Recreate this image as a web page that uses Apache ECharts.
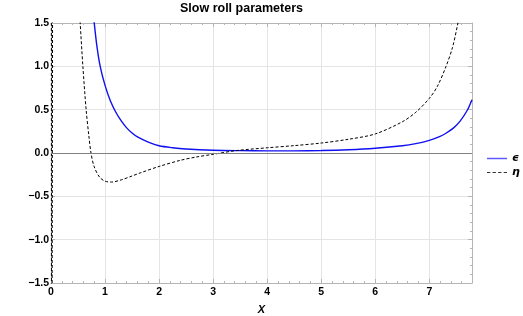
<!DOCTYPE html>
<html>
<head>
<meta charset="utf-8">
<script src="https://cdn.jsdelivr.net/npm/echarts@6/dist/echarts.min.js"></script>
<style>html,body{margin:0;padding:0;background:#fff;}#c{width:523px;height:316px;}</style>
</head>
<body>
<div id="c"></div>
<script>
const titleText = 'Slow roll parameters';
const xAxisName = 'X';
const seriesNames = ['\u03F5', '\u03B7'];
const xTickLabels = ['0', '1', '2', '3', '4', '5', '6', '7'];
const yTickLabels = ['\u22121.5', '\u22121.0', '\u22120.5', '0.0', '0.5', '1.0', '1.5'];
const yTickValues = [-1.5, -1.0, -0.5, 0.0, 0.5, 1.0, 1.5];

// epsilon (solid blue)
const epsX = [0.785, 0.80, 0.85, 0.91, 1.0, 1.1, 1.2, 1.3, 1.4, 1.5, 1.6, 1.8, 2.0, 2.25, 2.5, 3.0, 3.5, 4.0, 4.5, 5.0, 5.5, 6.0, 6.5, 6.75, 7.0, 7.2, 7.3, 7.45, 7.57, 7.7, 7.79];
const epsY = [1.6, 1.5, 1.23, 1.0, 0.78, 0.6, 0.47, 0.37, 0.29, 0.23, 0.185, 0.125, 0.083, 0.06, 0.046, 0.032, 0.027, 0.025, 0.025, 0.028, 0.037, 0.054, 0.083, 0.108, 0.146, 0.193, 0.225, 0.29, 0.368, 0.49, 0.615];

// eta (dashed black), main branch
const etaX = [0.52, 0.54, 0.59, 0.65, 0.70, 0.74, 0.8, 0.9, 1.0, 1.12, 1.3, 1.5, 1.65, 2.0, 2.39, 2.69, 3.0, 3.43, 4.0, 4.5, 5.0, 5.5, 6.0, 6.5, 6.75, 7.0, 7.15, 7.31, 7.43, 7.53, 7.56];
const etaY = [1.75, 1.5, 1.0, 0.5, 0.2, 0.0, -0.16, -0.28, -0.325, -0.335, -0.31, -0.265, -0.23, -0.155, -0.085, -0.046, -0.015, 0.028, 0.06, 0.085, 0.115, 0.158, 0.22, 0.36, 0.47, 0.63, 0.77, 1.0, 1.22, 1.5, 1.6];
// eta, near-vertical branch at X close to 0
const etaBranchX = [0.005, 0.01, 0.035, 0.04];
const etaBranchY = [6, -6, -6, 6];

const eps = epsX.map((x, i) => [x, epsY[i]]);
const eta = etaX.map((x, i) => [x, etaY[i]]);
const etaBranch = etaBranchX.map((x, i) => [x, etaBranchY[i]]);

const frameColor = '#b5b5b5';
const labelFont = { fontFamily: 'Liberation Sans, Arial, sans-serif', fontWeight: 'bold', fontSize: 10.5, color: '#000' };

function xFmt(v) { const i = Math.round(v); return Math.abs(v - i) < 1e-6 && i >= 0 && i < xTickLabels.length ? xTickLabels[i] : ''; }
function yFmt(v) { for (let i = 0; i < yTickValues.length; i++) { if (Math.abs(v - yTickValues[i]) < 1e-6) return yTickLabels[i]; } return ''; }

const chart = echarts.init(document.getElementById('c'), null, { renderer: 'canvas' });
const axisCommon = {
  type: 'value',
  axisLine: { show: true, onZero: false, lineStyle: { color: frameColor, width: 1 } },
  axisTick: { show: true, inside: true, length: 4, lineStyle: { color: frameColor } },
  minorTick: { show: true, splitNumber: 5, length: 2, lineStyle: { color: frameColor } }
};
const dashIcon = 'path://M0,0h3v1h-3z M5,0h3v1h-3z M10,0h3v1h-3z M15,0h3v1h-3z';
chart.setOption({
  animation: false,
  backgroundColor: '#fff',
  title: {
    text: titleText, left: 180, top: 2, padding: 0,
    textStyle: { fontFamily: 'Liberation Sans, Arial, sans-serif', fontWeight: 'bold', fontSize: 12.5, color: '#000' }
  },
  grid: { left: 51, right: 51, top: 23, bottom: 33, containLabel: false, outerBoundsMode: 'none' },
  legend: {
    orient: 'vertical', left: 487, top: 153, itemWidth: 20, itemHeight: 1.5, itemGap: 3, padding: 0,
    textStyle: { fontFamily: 'DejaVu Sans, sans-serif', fontStyle: 'italic', fontWeight: 'bold', fontSize: 11, color: '#000' },
    data: [
      { name: seriesNames[0], icon: 'rect', itemStyle: { color: '#5a5aff' } },
      { name: seriesNames[1], icon: dashIcon, itemStyle: { color: '#333' } }
    ]
  },
  xAxis: [
    {
      ...axisCommon, min: 0, max: 7.79, interval: 1, position: 'bottom',
      name: xAxisName, nameLocation: 'middle', nameGap: 21,
      nameTextStyle: { fontFamily: 'Liberation Sans, Arial, sans-serif', fontStyle: 'italic', fontWeight: 'bold', fontSize: 11, color: '#000' },
      axisLabel: { ...labelFont, margin: 4, showMaxLabel: false, formatter: xFmt },
      splitLine: { show: true, lineStyle: { color: '#e4e4e4', width: 1 } }
    },
    {
      ...axisCommon, min: 0, max: 7.79, interval: 1, position: 'top',
      axisLabel: { show: false }, splitLine: { show: false }
    }
  ],
  yAxis: [
    {
      ...axisCommon, min: -1.5, max: 1.5, interval: 0.5, position: 'left',
      axisLabel: { ...labelFont, margin: 2, formatter: yFmt },
      splitLine: { show: true, lineStyle: { color: '#e4e4e4', width: 1 } }
    },
    {
      ...axisCommon, min: -1.5, max: 1.5, interval: 0.5, position: 'right',
      axisLabel: { show: false }, splitLine: { show: false }
    }
  ],
  series: [
    {
      name: seriesNames[0], type: 'line', data: eps, xAxisIndex: 0, yAxisIndex: 0,
      symbol: 'none', smooth: 0.3, clip: true, z: 3,
      lineStyle: { color: '#1010f0', width: 1.4 }, itemStyle: { color: '#1010f0' },
      markLine: {
        silent: true, symbol: ['none', 'none'], label: { show: false },
        lineStyle: { color: '#808080', type: 'solid', width: 1 },
        data: [{ yAxis: 0 }]
      }
    },
    {
      name: seriesNames[1], type: 'line', data: eta, xAxisIndex: 0, yAxisIndex: 0,
      symbol: 'none', smooth: 0.3, clip: true, z: 4,
      lineStyle: { color: '#000', width: 1, type: [3, 2] }, itemStyle: { color: '#000' }
    },
    {
      name: seriesNames[1], type: 'line', data: etaBranch, xAxisIndex: 0, yAxisIndex: 0,
      symbol: 'none', smooth: false, clip: true, z: 4,
      lineStyle: { color: '#000', width: 1, type: [3, 2] }, itemStyle: { color: '#000' }
    }
  ]
});
</script>
</body>
</html>
